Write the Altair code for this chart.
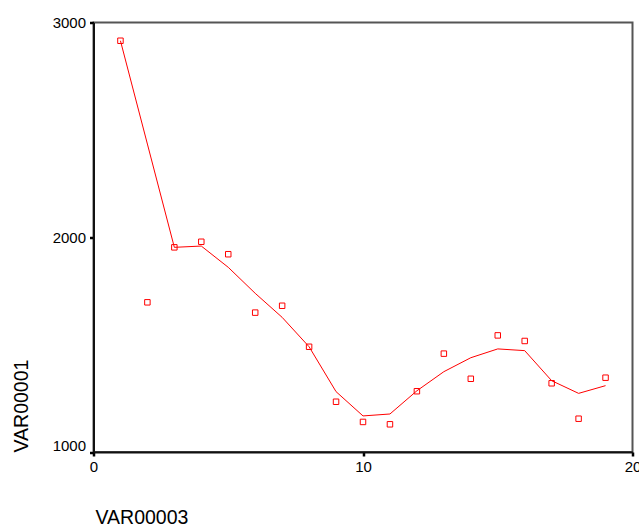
import altair as alt
import pandas as pd

x_vals = list(range(1, 20))
point_vals = [2915, 1697, 1953, 1979, 1921, 1649, 1681, 1490, 1234, 1140,
              1129, 1283, 1458, 1341, 1543, 1517, 1320, 1155, 1346]
fit_vals = [2915, 2434, 1953, 1959, 1860, 1739, 1627, 1490, 1281, 1168,
            1177, 1285, 1374, 1439, 1480, 1472, 1332, 1273, 1309]

df = pd.DataFrame({"VAR00003": x_vals, "VAR00001": point_vals, "fit": fit_vals})

FONT = "Liberation Sans"

x_enc = alt.X(
    "VAR00003:Q",
    scale=alt.Scale(domain=[0, 20], nice=False, zero=False),
    axis=alt.Axis(
        values=[0, 10, 20], format="d", grid=False,
        domainColor="#111111", domainWidth=2,
        tickColor="#000000", tickWidth=2.5, tickSize=4,
        labelFont=FONT, labelFontSize=15, labelColor="#000000", labelPadding=3,
        labelFlush=False, labelOverlap=False,
        title="VAR00003", titleFont=FONT, titleFontSize=19.5, titleFontWeight="normal",
        titleColor="#000000", titleX=1.5, titleY=65, titleAlign="left",
        titleBaseline="middle", titleAngle=0,
    ),
)

y_enc = alt.Y(
    "VAR00001:Q",
    scale=alt.Scale(domain=[1000, 3000], nice=False, zero=False),
    axis=alt.Axis(
        values=[1000, 2000, 3000], format="d", grid=False,
        domainColor="#111111", domainWidth=2,
        tickColor="#000000", tickWidth=2.5, tickSize=4,
        labelFont=FONT, labelFontSize=15, labelColor="#000000", labelPadding=4,
        labelFlush=False, labelOverlap=False,
        labelOffset={"condition": {"test": "datum.value == 1000", "value": -7}, "value": 0},
        title="VAR00001", titleFont=FONT, titleFontSize=19.5, titleFontWeight="normal",
        titleColor="#000000", titleX=-72, titleY=429.5, titleAlign="left",
        titleBaseline="middle", titleAngle=-90,
    ),
)

points = alt.Chart(df).mark_point(
    shape="square", size=30, filled=False, color="#ff0000", strokeWidth=1, opacity=1
).encode(x=x_enc, y=y_enc)

line = alt.Chart(df).mark_line(color="#ff0000", strokeWidth=1).encode(
    x=alt.X("VAR00003:Q"), y=alt.Y("fit:Q")
)

chart = (
    alt.layer(line, points)
    .properties(
        width=539, height=429.5,
        padding={"left": 93.5, "top": 22.5, "right": 6.5, "bottom": 77},
        autosize=alt.AutoSizeParams(type="none"),
        background="#ffffff",
    )
    .configure_view(stroke="#555555", strokeWidth=2)
)

chart.save("out.html", embed_options={"renderer": "svg", "actions": False})
